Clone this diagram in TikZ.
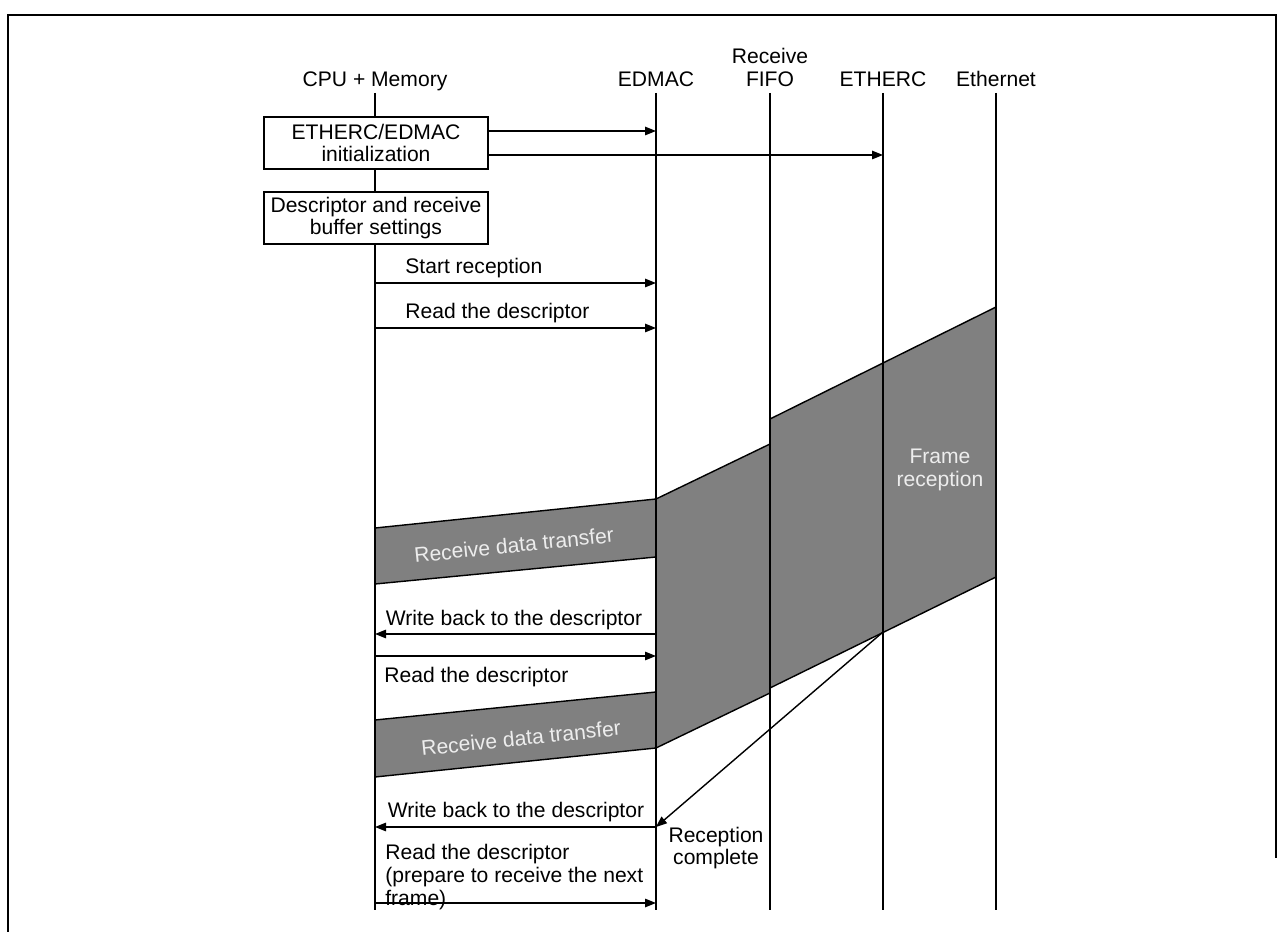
\documentclass[tikz,border=0pt]{standalone}
\usepackage{fontspec}
\setmainfont{Liberation Sans}
\usetikzlibrary{arrows.meta}

\begin{document}
\begin{tikzpicture}[x=0.02cm,y=-0.02cm,
        lbl/.style={font=\fontsize{12}{13}\selectfont,inner sep=0pt},
        head/.style={lbl,align=center,anchor=south,text depth=0pt},
        lane/.style={line width=1.1pt},
        msg/.style={-{Triangle[length=2.2mm,width=1.7mm]},line width=0.8pt},
        box/.style={lbl,draw,line width=0.8pt,fill=white,align=center,minimum width=4.48cm,minimum height=1.04cm},
        band/.style={draw,fill=black!50,line width=0.8pt,line join=round},
        bandtxt/.style={lbl,text=white!93!black}]
        \useasboundingbox (0,0) rectangle (1282,932);
        \draw[line width=1.4pt] (8,932) -- (8,15) -- (1276,15) -- (1276,858);

        % frame going through the blocks
        \draw[band] (375,528) -- (656,499) -- (656,557) -- (375,584) -- cycle;
        \draw[band] (375,720) -- (656,692) -- (656,748) -- (375,777) -- cycle;
        \draw[band] (656,499) -- (770,444) -- (770,693) -- (656,748) -- cycle;
        \draw[band] (770,419) -- (996,307) -- (996,577) -- (770,688) -- cycle;
        \coordinate (rxend) at (883,632);
        \node[bandtxt,rotate=5.9] (rdt1) at (514,545) {Receive data transfer};
        \node[bandtxt,rotate=5.9] (rdt2) at (521,738) {Receive data transfer};
        \node[bandtxt,align=center] (frm) at (940,470) {Frame\\reception};

        % lifelines
        \foreach \n/\x/\t in {cpu/375/CPU + Memory,edmac/656/EDMAC,fifo/770/Receive\\FIFO,etherc/883/ETHERC,eth/996/Ethernet}{
            \node[head] (\n) at (\x,87) {\t};
            \coordinate (\n-top) at (\x,93);
            \coordinate (\n-bot) at (\x,910);
            \draw[lane] (\n-top) -- (\n-bot);
        }

        \node[box] (init) at (376,143) {ETHERC/EDMAC\\initialization};
        \node[box] (bufset) at (376,218) {Descriptor and receive\\buffer settings};

        \foreach \n/\y in {a/131,b/155,c/283,d/328,e/634,f/656,g/827,h/903}
            \coordinate (y\n) at (0,\y);

        \draw[msg] (init.east |- ya) -- (edmac-top |- ya);
        \draw[msg] (init.east |- yb) -- (etherc-top |- yb);
        \draw[msg] (cpu-top |- yc) -- (edmac-top |- yc);
        \draw[msg] (cpu-top |- yd) -- (edmac-top |- yd);
        \draw[msg] (edmac-top |- ye) -- (cpu-top |- ye);
        \draw[msg] (cpu-top |- yf) -- (edmac-top |- yf);
        \draw[msg] (edmac-top |- yg) -- (cpu-top |- yg);
        \draw[msg] (cpu-top |- yh) -- (edmac-top |- yh);
        \draw[msg] (rxend) -- (edmac-top |- yg);

        \node[lbl,anchor=base west] (l1) at (405,274) {Start reception};
        \node[lbl,anchor=base west] (l2) at (405,319) {Read the descriptor};
        \node[lbl,anchor=base] (l3) at (514,625) {Write back to the descriptor};
        \node[lbl,anchor=base west] (l4) at (384,682) {Read the descriptor};
        \node[lbl,anchor=base] (l5) at (516,817) {Write back to the descriptor};
        \node[lbl,anchor=north west,align=left] (l6) at (385,844) {Read the descriptor\\(prepare to receive the next\\frame)};
        \node[lbl,align=center] (l7) at (716,848) {Reception\\complete};
\end{tikzpicture}
\end{document}
